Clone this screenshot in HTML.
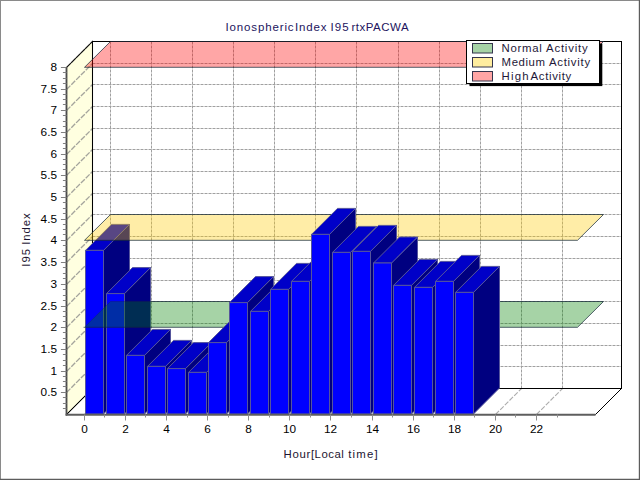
<!DOCTYPE html>
<html><head><meta charset="utf-8"><title>Ionospheric Index I95 rtxPACWA</title>
<style>
html,body{margin:0;padding:0;background:#fff;}
body{width:640px;height:480px;overflow:hidden;}
svg{display:block;font-family:"Liberation Sans",sans-serif;}
</style></head><body>
<svg width="640" height="480" viewBox="0 0 640 480">
<rect x="0" y="0" width="640" height="480" fill="#fff"/>
<rect x="0.5" y="0.5" width="639" height="479" fill="none" stroke="#8a8a8a" stroke-width="1"/>
<path d="M0 479.4H640M639.4 0V480" stroke="#5c5c5c" stroke-width="1.2" fill="none"/>
<polygon points="66.5,67.5 92.5,41.5 92.5,388.5 66.5,414.5" fill="#ffffe0"/>
<polygon points="66.5,414.5 92.5,388.5 621.5,388.5 595.5,414.5" fill="#fff"/>
<rect x="92.5" y="41.5" width="529.0" height="347.0" fill="#fff"/>
<path d="M92.5 366.50H621.5 M92.5 345.50H621.5 M92.5 323.50H621.5 M92.5 301.50H621.5 M92.5 280.50H621.5 M92.5 258.50H621.5 M92.5 236.50H621.5 M92.5 214.50H621.5 M92.5 193.50H621.5 M92.5 171.50H621.5 M92.5 149.50H621.5 M92.5 128.50H621.5 M92.5 106.50H621.5 M92.5 84.50H621.5 M92.5 63.50H621.5 M92.5 41.50H621.5 M110.50 388.5V41.5 M151.50 388.5V41.5 M192.50 388.5V41.5 M233.50 388.5V41.5 M274.50 388.5V41.5 M315.50 388.5V41.5 M356.50 388.5V41.5 M398.50 388.5V41.5 M439.50 388.5V41.5 M480.50 388.5V41.5 M521.50 388.5V41.5 M562.50 388.5V41.5" fill="none" stroke="#a0a0a0" stroke-width="1" stroke-dasharray="3 1"/>
<path d="M66.5 392.50L92.5 366.50 M66.5 371.50L92.5 345.50 M66.5 349.50L92.5 323.50 M66.5 327.50L92.5 301.50 M66.5 306.50L92.5 280.50 M66.5 284.50L92.5 258.50 M66.5 262.50L92.5 236.50 M66.5 240.50L92.5 214.50 M66.5 219.50L92.5 193.50 M66.5 197.50L92.5 171.50 M66.5 175.50L92.5 149.50 M66.5 154.50L92.5 128.50 M66.5 132.50L92.5 106.50 M66.5 110.50L92.5 84.50 M66.5 89.50L92.5 63.50 M66.5 67.50L92.5 41.50" fill="none" stroke="#a4a49c" stroke-width="1.35" stroke-dasharray="5.5 1.3"/>
<path d="M84.50 414.5L110.50 388.5 M125.50 414.5L151.50 388.5 M166.50 414.5L192.50 388.5 M207.50 414.5L233.50 388.5 M248.50 414.5L274.50 388.5 M289.50 414.5L315.50 388.5 M330.50 414.5L356.50 388.5 M372.50 414.5L398.50 388.5 M413.50 414.5L439.50 388.5 M454.50 414.5L480.50 388.5 M495.50 414.5L521.50 388.5 M536.50 414.5L562.50 388.5" fill="none" stroke="#acacac" stroke-width="1.1" stroke-dasharray="5 1.6"/>
<polygon points="66.5,67.5 92.5,41.5 92.5,388.5 66.5,414.5" fill="none" stroke="#000" stroke-width="1.05"/>
<polygon points="66.5,414.5 92.5,388.5 621.5,388.5 595.5,414.5" fill="none" stroke="#000" stroke-width="1"/>
<rect x="92.5" y="41.5" width="529.0" height="347.0" fill="none" stroke="#000" stroke-width="1"/>
<polygon points="103.50,250.4 129.50,224.4 129.50,388.0 103.50,414.0" fill="#000080" stroke="#55559c" stroke-width="1" stroke-linejoin="round"/><polygon points="85.50,250.4 111.50,224.4 129.50,224.4 103.50,250.4" fill="#0000c8" stroke="#55559c" stroke-width="1" stroke-linejoin="round"/><rect x="85.50" y="250.4" width="18.0" height="163.60" fill="#0000ff" stroke="#55559c" stroke-width="1" stroke-linejoin="round"/>
<polygon points="124.50,293.6 150.50,267.6 150.50,388.0 124.50,414.0" fill="#000080" stroke="#55559c" stroke-width="1" stroke-linejoin="round"/><polygon points="106.50,293.6 132.50,267.6 150.50,267.6 124.50,293.6" fill="#0000c8" stroke="#55559c" stroke-width="1" stroke-linejoin="round"/><rect x="106.50" y="293.6" width="18.0" height="120.40" fill="#0000ff" stroke="#55559c" stroke-width="1" stroke-linejoin="round"/>
<polygon points="84.50,327.30 110.50,301.50 603.50,301.50 577.50,327.30" fill="#008000" fill-opacity="0.35"/><path d="M84.50 327.30L110.50 301.50H150.5" fill="none" stroke="#142838" stroke-opacity="0.28" stroke-width="1"/><path d="M83.50 327.30H150.5" fill="none" stroke="#142838" stroke-opacity="0.6" stroke-width="1"/><path d="M150.5 301.50H603.50L577.50 327.30H150.5" fill="none" stroke="#142838" stroke-opacity="0.72" stroke-width="1"/>
<polygon points="84.50,240.30 110.50,214.50 603.50,214.50 577.50,240.30" fill="#ffcc00" fill-opacity="0.345"/><polygon points="84.50,240.30 110.50,214.50 603.50,214.50 577.50,240.30" fill="none" stroke="#142838" stroke-opacity="0.72" stroke-width="1"/>
<polygon points="84.50,67.30 110.50,41.50 603.50,41.50 577.50,67.30" fill="#ff0000" fill-opacity="0.35"/><polygon points="84.50,67.30 110.50,41.50 603.50,41.50 577.50,67.30" fill="none" stroke="#142838" stroke-opacity="0.72" stroke-width="1"/>
<polygon points="144.50,355.4 170.50,329.4 170.50,388.0 144.50,414.0" fill="#000080" stroke="#55559c" stroke-width="1" stroke-linejoin="round"/><polygon points="126.50,355.4 152.50,329.4 170.50,329.4 144.50,355.4" fill="#0000c8" stroke="#55559c" stroke-width="1" stroke-linejoin="round"/><rect x="126.50" y="355.4" width="18.0" height="58.60" fill="#0000ff" stroke="#55559c" stroke-width="1" stroke-linejoin="round"/>
<polygon points="165.50,366.4 191.50,340.4 191.50,388.0 165.50,414.0" fill="#000080" stroke="#55559c" stroke-width="1" stroke-linejoin="round"/><polygon points="147.50,366.4 173.50,340.4 191.50,340.4 165.50,366.4" fill="#0000c8" stroke="#55559c" stroke-width="1" stroke-linejoin="round"/><rect x="147.50" y="366.4" width="18.0" height="47.60" fill="#0000ff" stroke="#55559c" stroke-width="1" stroke-linejoin="round"/>
<polygon points="185.50,368.6 211.50,342.6 211.50,388.0 185.50,414.0" fill="#000080" stroke="#55559c" stroke-width="1" stroke-linejoin="round"/><polygon points="167.50,368.6 193.50,342.6 211.50,342.6 185.50,368.6" fill="#0000c8" stroke="#55559c" stroke-width="1" stroke-linejoin="round"/><rect x="167.50" y="368.6" width="18.0" height="45.40" fill="#0000ff" stroke="#55559c" stroke-width="1" stroke-linejoin="round"/>
<polygon points="206.50,372.4 232.50,346.4 232.50,388.0 206.50,414.0" fill="#000080" stroke="#55559c" stroke-width="1" stroke-linejoin="round"/><polygon points="188.50,372.4 214.50,346.4 232.50,346.4 206.50,372.4" fill="#0000c8" stroke="#55559c" stroke-width="1" stroke-linejoin="round"/><rect x="188.50" y="372.4" width="18.0" height="41.60" fill="#0000ff" stroke="#55559c" stroke-width="1" stroke-linejoin="round"/>
<polygon points="226.50,342.6 252.50,316.6 252.50,388.0 226.50,414.0" fill="#000080" stroke="#55559c" stroke-width="1" stroke-linejoin="round"/><polygon points="208.50,342.6 234.50,316.6 252.50,316.6 226.50,342.6" fill="#0000c8" stroke="#55559c" stroke-width="1" stroke-linejoin="round"/><rect x="208.50" y="342.6" width="18.0" height="71.40" fill="#0000ff" stroke="#55559c" stroke-width="1" stroke-linejoin="round"/>
<polygon points="247.50,302.6 273.50,276.6 273.50,388.0 247.50,414.0" fill="#000080" stroke="#55559c" stroke-width="1" stroke-linejoin="round"/><polygon points="229.50,302.6 255.50,276.6 273.50,276.6 247.50,302.6" fill="#0000c8" stroke="#55559c" stroke-width="1" stroke-linejoin="round"/><rect x="229.50" y="302.6" width="18.0" height="111.40" fill="#0000ff" stroke="#55559c" stroke-width="1" stroke-linejoin="round"/>
<polygon points="268.50,311.4 294.50,285.4 294.50,388.0 268.50,414.0" fill="#000080" stroke="#55559c" stroke-width="1" stroke-linejoin="round"/><polygon points="250.50,311.4 276.50,285.4 294.50,285.4 268.50,311.4" fill="#0000c8" stroke="#55559c" stroke-width="1" stroke-linejoin="round"/><rect x="250.50" y="311.4" width="18.0" height="102.60" fill="#0000ff" stroke="#55559c" stroke-width="1" stroke-linejoin="round"/>
<polygon points="288.50,289.4 314.50,263.4 314.50,388.0 288.50,414.0" fill="#000080" stroke="#55559c" stroke-width="1" stroke-linejoin="round"/><polygon points="270.50,289.4 296.50,263.4 314.50,263.4 288.50,289.4" fill="#0000c8" stroke="#55559c" stroke-width="1" stroke-linejoin="round"/><rect x="270.50" y="289.4" width="18.0" height="124.60" fill="#0000ff" stroke="#55559c" stroke-width="1" stroke-linejoin="round"/>
<polygon points="309.50,281.4 335.50,255.39999999999998 335.50,388.0 309.50,414.0" fill="#000080" stroke="#55559c" stroke-width="1" stroke-linejoin="round"/><polygon points="291.50,281.4 317.50,255.39999999999998 335.50,255.39999999999998 309.50,281.4" fill="#0000c8" stroke="#55559c" stroke-width="1" stroke-linejoin="round"/><rect x="291.50" y="281.4" width="18.0" height="132.60" fill="#0000ff" stroke="#55559c" stroke-width="1" stroke-linejoin="round"/>
<polygon points="329.50,234.4 355.50,208.4 355.50,388.0 329.50,414.0" fill="#000080" stroke="#55559c" stroke-width="1" stroke-linejoin="round"/><polygon points="311.50,234.4 337.50,208.4 355.50,208.4 329.50,234.4" fill="#0000c8" stroke="#55559c" stroke-width="1" stroke-linejoin="round"/><rect x="311.50" y="234.4" width="18.0" height="179.60" fill="#0000ff" stroke="#55559c" stroke-width="1" stroke-linejoin="round"/>
<polygon points="350.50,252.4 376.50,226.4 376.50,388.0 350.50,414.0" fill="#000080" stroke="#55559c" stroke-width="1" stroke-linejoin="round"/><polygon points="332.50,252.4 358.50,226.4 376.50,226.4 350.50,252.4" fill="#0000c8" stroke="#55559c" stroke-width="1" stroke-linejoin="round"/><rect x="332.50" y="252.4" width="18.0" height="161.60" fill="#0000ff" stroke="#55559c" stroke-width="1" stroke-linejoin="round"/>
<polygon points="370.50,251.4 396.50,225.4 396.50,388.0 370.50,414.0" fill="#000080" stroke="#55559c" stroke-width="1" stroke-linejoin="round"/><polygon points="352.50,251.4 378.50,225.4 396.50,225.4 370.50,251.4" fill="#0000c8" stroke="#55559c" stroke-width="1" stroke-linejoin="round"/><rect x="352.50" y="251.4" width="18.0" height="162.60" fill="#0000ff" stroke="#55559c" stroke-width="1" stroke-linejoin="round"/>
<polygon points="391.50,263 417.50,237.0 417.50,388.0 391.50,414.0" fill="#000080" stroke="#55559c" stroke-width="1" stroke-linejoin="round"/><polygon points="373.50,263 399.50,237.0 417.50,237.0 391.50,263" fill="#0000c8" stroke="#55559c" stroke-width="1" stroke-linejoin="round"/><rect x="373.50" y="263" width="18.0" height="151.00" fill="#0000ff" stroke="#55559c" stroke-width="1" stroke-linejoin="round"/>
<polygon points="411.50,285.4 437.50,259.4 437.50,388.0 411.50,414.0" fill="#000080" stroke="#55559c" stroke-width="1" stroke-linejoin="round"/><polygon points="393.50,285.4 419.50,259.4 437.50,259.4 411.50,285.4" fill="#0000c8" stroke="#55559c" stroke-width="1" stroke-linejoin="round"/><rect x="393.50" y="285.4" width="18.0" height="128.60" fill="#0000ff" stroke="#55559c" stroke-width="1" stroke-linejoin="round"/>
<polygon points="432.50,287.4 458.50,261.4 458.50,388.0 432.50,414.0" fill="#000080" stroke="#55559c" stroke-width="1" stroke-linejoin="round"/><polygon points="414.50,287.4 440.50,261.4 458.50,261.4 432.50,287.4" fill="#0000c8" stroke="#55559c" stroke-width="1" stroke-linejoin="round"/><rect x="414.50" y="287.4" width="18.0" height="126.60" fill="#0000ff" stroke="#55559c" stroke-width="1" stroke-linejoin="round"/>
<polygon points="453.50,281.4 479.50,255.39999999999998 479.50,388.0 453.50,414.0" fill="#000080" stroke="#55559c" stroke-width="1" stroke-linejoin="round"/><polygon points="435.50,281.4 461.50,255.39999999999998 479.50,255.39999999999998 453.50,281.4" fill="#0000c8" stroke="#55559c" stroke-width="1" stroke-linejoin="round"/><rect x="435.50" y="281.4" width="18.0" height="132.60" fill="#0000ff" stroke="#55559c" stroke-width="1" stroke-linejoin="round"/>
<polygon points="473.50,292.4 499.50,266.4 499.50,388.0 473.50,414.0" fill="#000080" stroke="#55559c" stroke-width="1" stroke-linejoin="round"/><polygon points="455.50,292.4 481.50,266.4 499.50,266.4 473.50,292.4" fill="#0000c8" stroke="#55559c" stroke-width="1" stroke-linejoin="round"/><rect x="455.50" y="292.4" width="18.0" height="121.60" fill="#0000ff" stroke="#55559c" stroke-width="1" stroke-linejoin="round"/>
<path d="M66.5 67.5V415.5" stroke="#4c4c4c" stroke-width="1.8" fill="none"/>
<path d="M65.6 414.7H595.5" stroke="#5e5e5e" stroke-width="2" fill="none"/>
<path d="M62.9 408.50H66.5 M62.9 403.50H66.5 M62.9 397.50H66.5 M60.9 392.50H66.5 M62.9 386.50H66.5 M62.9 381.50H66.5 M62.9 376.50H66.5 M60.9 371.50H66.5 M62.9 365.50H66.5 M62.9 360.50H66.5 M62.9 354.50H66.5 M60.9 349.50H66.5 M62.9 343.50H66.5 M62.9 338.50H66.5 M62.9 332.50H66.5 M60.9 327.50H66.5 M62.9 321.50H66.5 M62.9 316.50H66.5 M62.9 311.50H66.5 M60.9 306.50H66.5 M62.9 300.50H66.5 M62.9 295.50H66.5 M62.9 289.50H66.5 M60.9 284.50H66.5 M62.9 278.50H66.5 M62.9 273.50H66.5 M62.9 267.50H66.5 M60.9 262.50H66.5 M62.9 256.50H66.5 M62.9 251.50H66.5 M62.9 245.50H66.5 M60.9 240.50H66.5 M62.9 234.50H66.5 M62.9 229.50H66.5 M62.9 224.50H66.5 M60.9 219.50H66.5 M62.9 213.50H66.5 M62.9 208.50H66.5 M62.9 202.50H66.5 M60.9 197.50H66.5 M62.9 191.50H66.5 M62.9 186.50H66.5 M62.9 180.50H66.5 M60.9 175.50H66.5 M62.9 169.50H66.5 M62.9 164.50H66.5 M62.9 159.50H66.5 M60.9 154.50H66.5 M62.9 148.50H66.5 M62.9 143.50H66.5 M62.9 137.50H66.5 M60.9 132.50H66.5 M62.9 126.50H66.5 M62.9 121.50H66.5 M62.9 115.50H66.5 M60.9 110.50H66.5 M62.9 104.50H66.5 M62.9 99.50H66.5 M62.9 94.50H66.5 M60.9 89.50H66.5 M62.9 83.50H66.5 M62.9 78.50H66.5 M62.9 72.50H66.5 M60.9 67.50H66.5" stroke="#808080" stroke-width="1" fill="none"/>
<path d="M84.50 414.5V420.5 M104.50 414.5V417.5 M125.50 414.5V420.5 M145.50 414.5V417.5 M166.50 414.5V420.5 M187.50 414.5V417.5 M207.50 414.5V420.5 M228.50 414.5V417.5 M248.50 414.5V420.5 M269.50 414.5V417.5 M289.50 414.5V420.5 M310.50 414.5V417.5 M330.50 414.5V420.5 M351.50 414.5V417.5 M372.50 414.5V420.5 M392.50 414.5V417.5 M413.50 414.5V420.5 M433.50 414.5V417.5 M454.50 414.5V420.5 M474.50 414.5V417.5 M495.50 414.5V420.5 M515.50 414.5V417.5 M536.50 414.5V420.5 M557.50 414.5V417.5" stroke="#8e8e8e" stroke-width="1" fill="none"/>
<text x="57" y="396.20" text-anchor="end" font-size="11.8" fill="#000">0.5</text>
<text x="57" y="375.20" text-anchor="end" font-size="11.8" fill="#000">1</text>
<text x="57" y="353.20" text-anchor="end" font-size="11.8" fill="#000">1.5</text>
<text x="57" y="331.20" text-anchor="end" font-size="11.8" fill="#000">2</text>
<text x="57" y="310.20" text-anchor="end" font-size="11.8" fill="#000">2.5</text>
<text x="57" y="288.20" text-anchor="end" font-size="11.8" fill="#000">3</text>
<text x="57" y="266.20" text-anchor="end" font-size="11.8" fill="#000">3.5</text>
<text x="57" y="244.20" text-anchor="end" font-size="11.8" fill="#000">4</text>
<text x="57" y="223.20" text-anchor="end" font-size="11.8" fill="#000">4.5</text>
<text x="57" y="201.20" text-anchor="end" font-size="11.8" fill="#000">5</text>
<text x="57" y="179.20" text-anchor="end" font-size="11.8" fill="#000">5.5</text>
<text x="57" y="158.20" text-anchor="end" font-size="11.8" fill="#000">6</text>
<text x="57" y="136.20" text-anchor="end" font-size="11.8" fill="#000">6.5</text>
<text x="57" y="114.20" text-anchor="end" font-size="11.8" fill="#000">7</text>
<text x="57" y="93.20" text-anchor="end" font-size="11.8" fill="#000">7.5</text>
<text x="57" y="71.20" text-anchor="end" font-size="11.8" fill="#000">8</text>
<text x="84.50" y="432.8" text-anchor="middle" font-size="11.8" fill="#000">0</text>
<text x="125.50" y="432.8" text-anchor="middle" font-size="11.8" fill="#000">2</text>
<text x="166.50" y="432.8" text-anchor="middle" font-size="11.8" fill="#000">4</text>
<text x="207.50" y="432.8" text-anchor="middle" font-size="11.8" fill="#000">6</text>
<text x="248.50" y="432.8" text-anchor="middle" font-size="11.8" fill="#000">8</text>
<text x="289.50" y="432.8" text-anchor="middle" font-size="11.8" fill="#000">10</text>
<text x="330.50" y="432.8" text-anchor="middle" font-size="11.8" fill="#000">12</text>
<text x="372.50" y="432.8" text-anchor="middle" font-size="11.8" fill="#000">14</text>
<text x="413.50" y="432.8" text-anchor="middle" font-size="11.8" fill="#000">16</text>
<text x="454.50" y="432.8" text-anchor="middle" font-size="11.8" fill="#000">18</text>
<text x="495.50" y="432.8" text-anchor="middle" font-size="11.8" fill="#000">20</text>
<text x="536.50" y="432.8" text-anchor="middle" font-size="11.8" fill="#000">22</text>
<text x="225.4" y="31.2" font-size="11.5" fill="#22145e" textLength="68.2" lengthAdjust="spacing">Ionospheric</text>
<text x="295.0" y="31.2" font-size="11.5" fill="#22145e" textLength="31.4" lengthAdjust="spacing">Index</text>
<text x="330.6" y="31.2" font-size="11.5" fill="#22145e" textLength="18.0" lengthAdjust="spacing">I95</text>
<text x="351.4" y="31.2" font-size="11.5" fill="#22145e" textLength="57.2" lengthAdjust="spacing">rtxPACWA</text>
<text x="283.6" y="457.8" font-size="11.4" fill="#1c1430" textLength="26.7" lengthAdjust="spacing">Hour</text>
<text x="310.9" y="457.8" font-size="11.4" fill="#1c1430" textLength="32.9" lengthAdjust="spacing">[Local</text>
<text x="348.2" y="457.8" font-size="11.4" fill="#1c1430" textLength="29.4" lengthAdjust="spacing">time]</text>
<text transform="translate(29.8,266.7) rotate(-90)" font-size="11.4" fill="#1c1430" textLength="17.7" lengthAdjust="spacing">I95</text>
<text transform="translate(29.8,244.8) rotate(-90)" font-size="11.4" fill="#1c1430" textLength="31.5" lengthAdjust="spacing">Index</text>
<rect x="469.5" y="43.5" width="132.8" height="42.6" fill="#000"/>
<rect x="466.5" y="40.5" width="133" height="43" fill="#fff" stroke="#000" stroke-width="1"/>
<rect x="472.5" y="43.5" width="20" height="9.5" fill="#a6d3a6" stroke="#34344c" stroke-width="1"/>
<text x="501.6" y="51.8" font-size="11.4" fill="#1e1838" textLength="40.3" lengthAdjust="spacing">Normal</text>
<text x="546.0" y="51.8" font-size="11.4" fill="#1e1838" textLength="41.6" lengthAdjust="spacing">Activity</text>
<rect x="472.5" y="57.5" width="20" height="9.5" fill="#ffed9f" stroke="#34344c" stroke-width="1"/>
<text x="501.6" y="65.8" font-size="11.4" fill="#1e1838" textLength="43.4" lengthAdjust="spacing">Medium</text>
<text x="548.9" y="65.8" font-size="11.4" fill="#1e1838" textLength="41.2" lengthAdjust="spacing">Activity</text>
<rect x="472.5" y="71.5" width="20" height="9.5" fill="#ffa5a5" stroke="#34344c" stroke-width="1"/>
<text x="501.6" y="79.8" font-size="11.4" fill="#1e1838" textLength="26.9" lengthAdjust="spacing">High</text>
<text x="530.6" y="79.8" font-size="11.4" fill="#1e1838" textLength="40.6" lengthAdjust="spacing">Activity</text>
</svg>
</body></html>
